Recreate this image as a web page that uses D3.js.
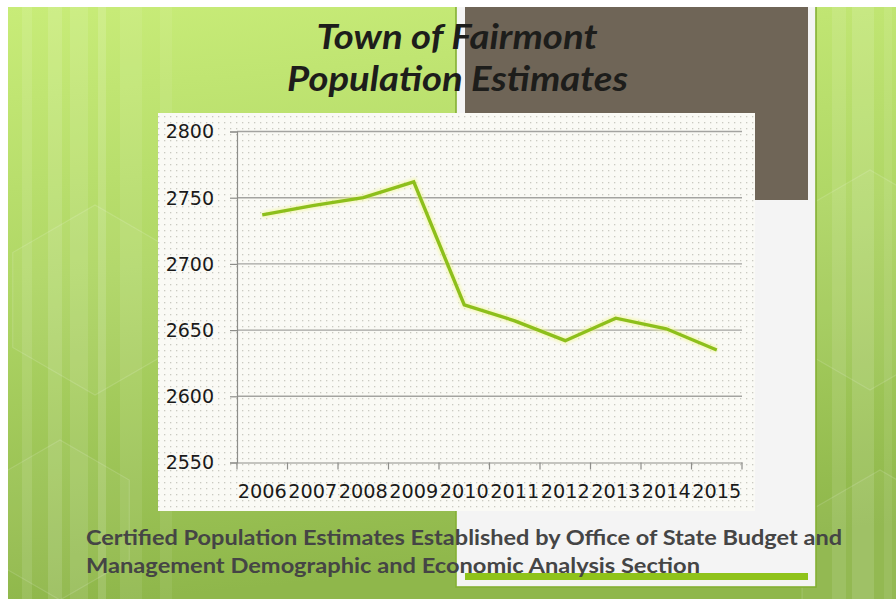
<!DOCTYPE html>
<html>
<head>
<meta charset="utf-8">
<script src="https://cdn.jsdelivr.net/npm/d3@7"></script>
<style>
  html, body { margin: 0; padding: 0; background: #ffffff; }
  svg { display: block; }
</style>
</head>
<body>
<div id="chart"></div>
<script>
// Town of Fairmont – certified population estimates
const years = ["2006", "2007", "2008", "2009", "2010", "2011", "2012", "2013", "2014", "2015"];
const population = [2737, 2744, 2750, 2762, 2669, 2657, 2642, 2659, 2651, 2635];
const yTicks = [2550, 2600, 2650, 2700, 2750, 2800];
const titleLines = ["Town of Fairmont", "Population Estimates"];
const sourceLines = [
  "Certified Population Estimates Established by Office of State Budget and",
  "Management Demographic and Economic Analysis Section"
];

const W = 896, H = 599;
const svg = d3.select("#chart").append("svg")
  .attr("width", W).attr("height", H)
  .attr("viewBox", `0 0 ${W} ${H}`);

const defs = svg.append("defs");

// slide background gradient
const bg = defs.append("linearGradient").attr("id", "bgGrad")
  .attr("x1", 0).attr("y1", 0).attr("x2", 0.15).attr("y2", 1);
bg.append("stop").attr("offset", "0%").attr("stop-color", "#c8ec78");
bg.append("stop").attr("offset", "45%").attr("stop-color", "#b0d766");
bg.append("stop").attr("offset", "100%").attr("stop-color", "#8fb74b");

// dotted fill of the chart box
const pat = defs.append("pattern").attr("id", "dots")
  .attr("patternUnits", "userSpaceOnUse").attr("width", 6).attr("height", 6);
pat.append("rect").attr("width", 6).attr("height", 6).attr("fill", "#fafaf5");
pat.append("rect").attr("x", 2).attr("y", 2).attr("width", 1.3).attr("height", 1.3).attr("fill", "#cacac1");

// soft glow for the series line
const glow = defs.append("filter").attr("id", "glow")
  .attr("x", "-10%").attr("y", "-10%").attr("width", "120%").attr("height", "120%");
glow.append("feGaussianBlur").attr("stdDeviation", 1.6);

// ---- slide backdrop ----
svg.append("rect").attr("x", 8).attr("y", 7).attr("width", W - 8).attr("height", H - 7)
  .attr("fill", "url(#bgGrad)");

// light vertical bands
const bands = [[22, 10, 0.10], [48, 14, 0.12], [70, 18, 0.10], [98, 8, 0.14], [120, 22, 0.08],
               [160, 12, 0.07], [832, 14, 0.10], [852, 22, 0.12], [884, 8, 0.08]];
svg.append("g").selectAll("rect").data(bands).join("rect")
  .attr("x", d => d[0]).attr("y", 7).attr("width", d => d[1]).attr("height", H - 7)
  .attr("fill", "#ffffff").attr("opacity", d => d[2]);

// faint hexagon outlines
function hex(cx, cy, r) {
  return d3.range(6).map(i => {
    const a = Math.PI / 3 * i + Math.PI / 6;
    return [cx + r * Math.cos(a), cy + r * Math.sin(a)];
  });
}
const hexes = [[95, 300, 95], [60, 520, 80], [870, 280, 110], [880, 560, 90]];
svg.append("g").selectAll("polygon").data(hexes).join("polygon")
  .attr("points", d => hex(d[0], d[1], d[2]).join(" "))
  .attr("fill", "#ffffff").attr("fill-opacity", 0.04)
  .attr("stroke", "#ffffff").attr("stroke-opacity", 0.14).attr("stroke-width", 1.2);

// right-hand light panel with green edge
svg.append("rect").attr("x", 456).attr("y", 6).attr("width", 360).attr("height", 581)
  .attr("fill", "#f4f4f4").attr("stroke", "#84b034").attr("stroke-width", 1.6);
svg.append("rect").attr("x", 455).attr("y", 0).attr("width", 362).attr("height", 7)
  .attr("fill", "#ffffff");
svg.append("rect").attr("x", 465).attr("y", 7).attr("width", 343).attr("height", 193)
  .attr("fill", "#6f6557");
svg.append("rect").attr("x", 465).attr("y", 573).attr("width", 343).attr("height", 7)
  .attr("fill", "#8fc31a");

// ---- title ----
const title = svg.append("g")
  .attr("font-family", "Lato, 'DejaVu Sans', sans-serif")
  .attr("font-weight", 700).attr("font-style", "italic")
  .attr("font-size", 34).attr("fill", "#1d1d1b")
  .attr("text-anchor", "middle");
title.append("text").attr("x", 457).attr("y", 49)
  .attr("textLength", 281).attr("lengthAdjust", "spacingAndGlyphs").text(titleLines[0]);
title.append("text").attr("x", 457.5).attr("y", 91)
  .attr("textLength", 341).attr("lengthAdjust", "spacingAndGlyphs").text(titleLines[1]);

// ---- chart box ----
svg.append("rect").attr("x", 158).attr("y", 113).attr("width", 597).attr("height", 398)
  .attr("fill", "url(#dots)");

const x = d3.scaleBand().domain(years).range([237, 742]).padding(0);
const y = d3.scaleLinear().domain([2550, 2800]).range([462.5, 131.5]);

// horizontal gridlines
svg.append("g").selectAll("line").data(yTicks.filter(v => v !== 2550)).join("line")
  .attr("x1", 237).attr("x2", 742)
  .attr("y1", d => y(d)).attr("y2", d => y(d))
  .attr("stroke", "#a3a3a0").attr("stroke-width", 1.4);

const tickFont = "'DejaVu Sans', sans-serif";

// y axis
const yAxis = svg.append("g").attr("transform", "translate(237,0)")
  .call(d3.axisLeft(y).tickValues(yTicks).tickSize(7).tickPadding(16).tickFormat(d3.format("d")));
yAxis.select(".domain").attr("stroke", "#8e8e8a").attr("stroke-width", 1.2);
yAxis.selectAll(".tick line").attr("stroke", "#8e8e8a").attr("stroke-width", 1.2);
yAxis.selectAll(".tick text").attr("font-family", tickFont).attr("font-size", 19)
  .attr("fill", "#1a1a1a").attr("dy", "0.34em");

// x axis (labels centred in each category, ticks on category edges)
const xAxis = svg.append("g").attr("transform", `translate(0,${y(2550)})`)
  .call(d3.axisBottom(x).tickSize(0).tickPadding(22));
xAxis.select(".domain").attr("stroke", "#8e8e8a").attr("stroke-width", 1.2);
xAxis.selectAll(".tick text").attr("font-family", tickFont).attr("font-size", 19)
  .attr("fill", "#1a1a1a").attr("textLength", 49).attr("lengthAdjust", "spacingAndGlyphs");
const edges = years.map(d => x(d)).concat([x.range()[1]]);
xAxis.append("g").selectAll("line").data(edges).join("line")
  .attr("x1", d => d).attr("x2", d => d).attr("y1", 0).attr("y2", 7)
  .attr("stroke", "#8e8e8a").attr("stroke-width", 1.2);

// series line
const line = d3.line()
  .x((d, i) => x(years[i]) + x.bandwidth() / 2)
  .y(d => y(d));
svg.append("path").datum(population).attr("d", line)
  .attr("fill", "none").attr("stroke", "#f2f59a").attr("stroke-width", 7)
  .attr("stroke-opacity", 0.6).attr("filter", "url(#glow)");
svg.append("path").datum(population).attr("d", line)
  .attr("fill", "none").attr("stroke", "#8dbf1b").attr("stroke-width", 3.4)
  .attr("stroke-linejoin", "miter");

// ---- source note ----
const src = svg.append("g")
  .attr("font-family", "Lato, 'DejaVu Sans', sans-serif")
  .attr("font-weight", 700).attr("font-size", 21).attr("fill", "#454545");
src.append("text").attr("x", 86).attr("y", 545)
  .attr("textLength", 756).attr("lengthAdjust", "spacingAndGlyphs").text(sourceLines[0]);
src.append("text").attr("x", 86).attr("y", 572.5)
  .attr("textLength", 614).attr("lengthAdjust", "spacingAndGlyphs").text(sourceLines[1]);
</script>
</body>
</html>
